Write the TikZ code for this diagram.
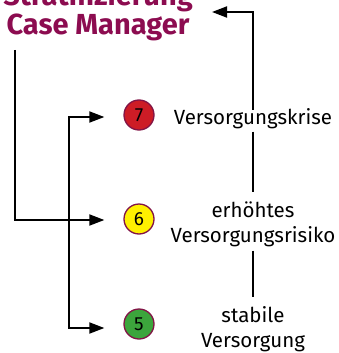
\documentclass[tikz,border=0pt]{standalone}
\usepackage{fontspec}
\setmainfont{Fira Sans}
\usetikzlibrary{arrows.meta}
\definecolor{titlecol}{RGB}{140,12,80}
\definecolor{rimcol}{RGB}{130,20,70}
\definecolor{cred}{RGB}{205,28,38}
\definecolor{cyellow}{RGB}{255,240,0}
\definecolor{cgreen}{RGB}{60,165,60}
\tikzset{
  titletext/.style={font=\fontsize{29}{30}\selectfont\bfseries, text=titlecol, inner sep=0pt, anchor=base},
  circ/.style={circle, draw=rimcol, line width=1.3pt, minimum size=30pt, inner sep=0pt, font=\fontsize{19}{19}\selectfont},
  lab/.style={font=\fontsize{20.5}{25}\selectfont, align=center, inner sep=0pt},
  conn/.style={line width=1.8pt, draw=black},
  arr/.style={conn, -{Triangle[length=15pt,width=11pt]}},
}
\begin{document}
\begin{tikzpicture}[x=1pt,y=-1pt]
\useasboundingbox (0,0) rectangle (339,353);
\clip (0,0) rectangle (339,353);
\node[titletext] (t1) at (98,6) {Stratifizierung};
\node[titletext] (t2) at (98,35) {Case Manager};
\node[circ, fill=cred] (c7) at (139,115) {7};
\node[circ, fill=cyellow] (c6) at (139,219) {6};
\node[circ, fill=cgreen] (c5) at (139,324) {5};
\node[lab, anchor=base] (l7) at (253,124) {Versorgungskrise};
\node[lab, anchor=base] (l6) at (253,242) {erhöhtes\\Versorgungsrisiko};
\node[lab, anchor=base] (l5) at (253,347) {stabile\\Versorgung};
\coordinate (s1) at (15,50);
\coordinate (s2) at (69,218);
\draw[arr, shorten >=19pt] (s1) |- ([yshift=-1pt]c6.west);
\draw[arr, shorten >=19pt] (s2) |- ([yshift=-2pt]c7.west);
\draw[arr, shorten >=19pt] (s2) |- ([yshift=-4pt]c5.west);
\draw[conn] ([yshift=-3pt]l7.south) -- ([yshift=9pt]l6.north);
\draw[conn] ([yshift=-4pt]l6.south) -- ([yshift=9pt]l5.north);
\draw[arr] ([yshift=-2pt]l7.north) |- (212,12);
\end{tikzpicture}
\end{document}
